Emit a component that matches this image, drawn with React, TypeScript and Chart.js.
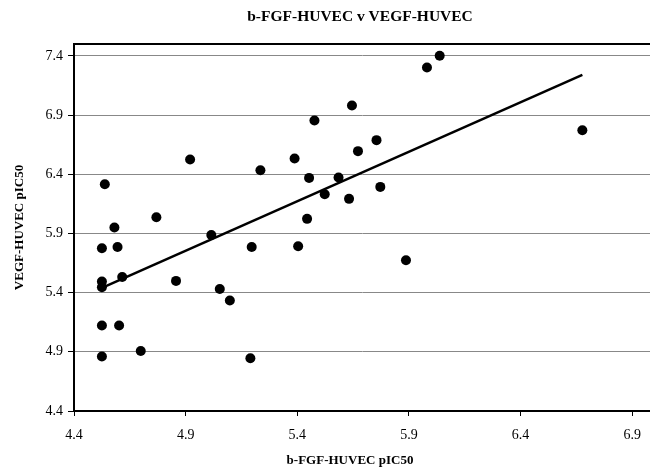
import { useEffect, useRef } from 'react';
import { Chart, registerables } from 'chart.js';

Chart.register(...registerables);

// b-FGF-HUVEC pIC50 (x) vs VEGF-HUVEC pIC50 (y)
const bfgfX = [
  4.538, 4.581, 4.769, 4.920, 5.015, 5.235, 5.388, 5.477, 5.453, 5.523, 5.444, 5.585,
  5.632, 5.645, 5.672, 5.755, 5.772, 5.981, 6.038, 6.677, 4.525, 4.595, 4.525, 4.525,
  4.616, 4.857, 5.053, 5.098, 5.196, 5.404, 4.525, 4.602, 4.699, 4.525, 5.190, 5.887,
];
const vegfY = [
  6.316, 5.950, 6.037, 6.525, 5.887, 6.434, 6.533, 6.854, 6.369, 6.231, 6.023, 6.372,
  6.192, 6.981, 6.595, 6.688, 6.293, 7.302, 7.400, 6.772, 5.775, 5.786, 5.494, 5.445,
  5.532, 5.499, 5.431, 5.333, 5.786, 5.792, 5.122, 5.122, 4.907, 4.860, 4.845, 5.674,
];
// linear trend line end points
const trendX = [4.525, 6.677];
const trendY = [5.44, 7.24];

const xTicks = [4.4, 4.9, 5.4, 5.9, 6.4, 6.9];
const yTicks = [4.4, 4.9, 5.4, 5.9, 6.4, 6.9, 7.4];

const chartTitle = 'b-FGF-HUVEC v VEGF-HUVEC';
const xTitle = 'b-FGF-HUVEC pIC50';
const yTitle = 'VEGF-HUVEC pIC50';

const FONT = '"Liberation Serif", "Times New Roman", serif';

const framePlugin = {
  id: 'frameTop',
  afterDatasetsDraw(chart: any) {
    const { ctx, chartArea } = chart;
    ctx.save();
    ctx.strokeStyle = '#000';
    ctx.lineWidth = 2;
    ctx.beginPath();
    ctx.moveTo(chartArea.left - 1, chartArea.top);
    ctx.lineTo(chartArea.right, chartArea.top);
    ctx.stroke();
    const cx = (chartArea.left + chartArea.right) / 2;
    ctx.fillStyle = '#000';
    ctx.textAlign = 'center';
    ctx.textBaseline = 'middle';
    // chart title
    ctx.font = `bold 15.5px ${FONT}`;
    ctx.fillText(chartTitle, cx - 2, 17);
    // x axis title
    ctx.font = `bold 13px ${FONT}`;
    ctx.fillText(xTitle, cx - 12, 461);
    ctx.restore();
  },
};

export default function App() {
  const ref = useRef<HTMLCanvasElement | null>(null);

  useEffect(() => {
    if (!ref.current) return;
    const points = bfgfX.map((x, i) => ({ x, y: vegfY[i] }));
    const trend = trendX.map((x, i) => ({ x, y: trendY[i] }));
    const chart = new Chart(ref.current, {
      type: 'scatter',
      data: {
        datasets: [
          {
            type: 'line',
            data: trend,
            borderColor: '#000',
            borderWidth: 2.5,
            pointRadius: 0,
            showLine: true,
            fill: false,
            order: 1,
          } as any,
          {
            data: points,
            backgroundColor: '#000',
            borderColor: '#000',
            pointRadius: 5,
            pointBorderWidth: 0,
            order: 0,
          },
        ],
      },
      options: {
        animation: false,
        responsive: false,
        devicePixelRatio: 1,
        layout: { autoPadding: false, padding: { left: 0, right: 0, top: 44, bottom: 0 } },
        plugins: {
          legend: { display: false },
          tooltip: { enabled: false },
          title: { display: false },
        },
        scales: {
          x: {
            type: 'linear',
            min: 4.4,
            max: 6.98,
            afterBuildTicks: (scale: any) => {
              scale.ticks = xTicks.map((v) => ({ value: v }));
            },
            afterFit: (scale: any) => {
              scale.height = 57;
              scale.paddingLeft = 0;
              scale.paddingRight = 0;
            },
            grid: {
              drawOnChartArea: false,
              drawTicks: true,
              tickLength: 5,
              tickColor: '#000',
              tickWidth: 1,
            },
            border: { display: true, color: '#000', width: 2 },
            ticks: {
              color: '#000',
              font: { family: FONT, size: 14 },
              padding: 11,
              maxRotation: 0,
              callback: (v: any) => Number(v).toFixed(1),
            },
            title: { display: false },
          },
          y: {
            type: 'linear',
            min: 4.4,
            max: 7.5,
            afterBuildTicks: (scale: any) => {
              scale.ticks = yTicks.map((v) => ({ value: v }));
            },
            afterFit: (scale: any) => {
              scale.width = 74;
              scale.paddingTop = 0;
              scale.paddingBottom = 0;
            },
            grid: {
              color: '#888',
              lineWidth: 1,
              drawTicks: true,
              tickLength: 6,
              tickColor: '#000',
              tickWidth: 1,
            },
            border: { display: true, color: '#000', width: 2 },
            ticks: {
              color: '#000',
              font: { family: FONT, size: 14 },
              padding: 5,
              callback: (v: any) => Number(v).toFixed(1),
            },
            title: {
              display: true,
              text: yTitle,
              color: '#000',
              font: { family: FONT, size: 13, weight: 'bold' },
              padding: { top: 12, bottom: 0 },
            },
          },
        },
      } as any,
      plugins: [framePlugin],
    });
    return () => chart.destroy();
  }, []);

  return (
    <div style={{ position: 'absolute', left: 0, top: 0, width: 650, height: 468, background: '#fff' }}>
      <canvas ref={ref} width={650} height={468} style={{ display: 'block', width: 650, height: 468 }} />
    </div>
  );
}
